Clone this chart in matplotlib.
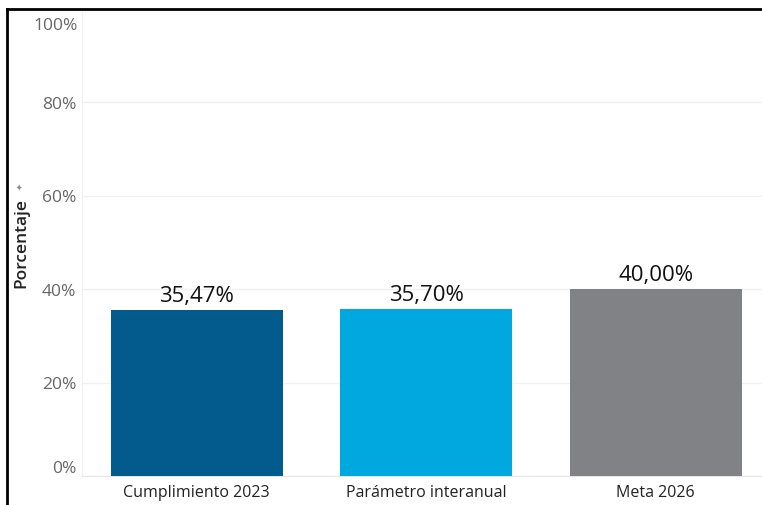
import matplotlib.pyplot as plt
from matplotlib.lines import Line2D

# Data
categories = ['Cumplimiento 2023', 'Parámetro interanual', 'Meta 2026']
values = [35.47, 35.70, 40.00]
labels = ['35,47%', '35,70%', '40,00%']
colors = ['#035a8d', '#00a8e0', '#808285']
yticks = [0, 20, 40, 60, 80, 100]

W, H = 762, 506
fig = plt.figure(figsize=(W / 100, H / 100), dpi=100)

# axes placed in pixel terms: left 82, right 762, top 9.5, bottom 477
left, right, top, bottom = 82, 762, 9.5, 477
ax = fig.add_axes([left / W, 1 - bottom / H, (right - left) / W, (bottom - top) / H])

x = range(len(categories))
ax.bar(x, values, width=0.75, color=colors, zorder=3)
step = 229.5
ax.set_xlim(-0.5, (right - left) / step - 0.5)
ax.set_ylim(0, 100)

for xi, v, lab in zip(x, values, labels):
    ax.annotate(lab, (xi, v), xytext=(0, 3), textcoords='offset points',
                ha='center', va='bottom', fontsize=16, family='Open Sans',
                color='#111111')

ax.set_xticks(list(x))
ax.set_xticklabels(categories, fontsize=11.5, family='Open Sans', color='#222222')
ax.tick_params(axis='x', length=0, pad=6)

ax.set_yticks(yticks)
ytl = [f'{t}%' for t in yticks]
ytl[-1] = ''
ax.set_yticklabels(ytl, fontsize=12.5, family='Open Sans', color='#666666')
ax.tick_params(axis='y', length=0, pad=4)
ax.get_yticklabels()[0].set_va('bottom')
# top label sits a little inside the frame
ax.annotate(f'{yticks[-1]}%', (0, yticks[-1]), xycoords=('axes fraction', 'data'),
            xytext=(-3, -6), textcoords='offset points', ha='right', va='top',
            fontsize=12.5, family='Open Sans', color='#666666')

ax.grid(axis='y', color='#f0f0f0', linewidth=1, zorder=0)
for s in ['top', 'right']:
    ax.spines[s].set_visible(False)
ax.spines['left'].set_color('#f0f0f0')
ax.spines['bottom'].set_color('#e6e6e6')

fig.text(21 / W, 1 - 243 / H, 'Porcentaje', rotation=90, ha='center', va='center',
         fontsize=12.5, family='Open Sans', weight='semibold', color='#222222')
fig.text(20 / W, 1 - 187 / H, '✦', rotation=90, ha='center', va='center',
         fontsize=6, color='#888888')

# outer frame (left and top)
fig.add_artist(Line2D([6.5 / W, 6.5 / W], [0, 1 - 10 / H], color='black',
                      linewidth=2, transform=fig.transFigure))
fig.add_artist(Line2D([6.5 / W, 1], [1 - 10 / H, 1 - 10 / H], color='black',
                      linewidth=2, transform=fig.transFigure))

fig.savefig('out.png', dpi=100)
